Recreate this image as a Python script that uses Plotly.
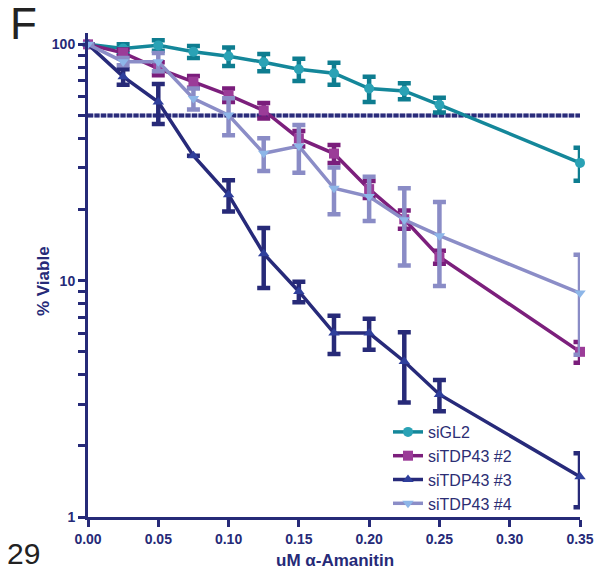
import plotly.graph_objects as go

NA = float("nan")  # no error bar drawn at this point

# ---- data ----
conc = [0, 0.025, 0.05, 0.075, 0.1, 0.125, 0.15, 0.175, 0.2, 0.225, 0.25, 0.35]

sigl2 = [100, 96, 99, 93, 89, 84, 78.5, 75.5, 65, 63.5, 55.5, 31.5]
sigl2_err = [NA, 4, 5, 5.5, 8, 7, 8.5, 8, 8, 5, 4, 5]

tdp2 = [100, 92, 79, 69.5, 61, 52.5, 40, 34.5, 24.4, 18.2, 12.6, 5.0]
tdp2_err = [NA, 3, 5, 4, 4, 4, 3, 3, 2, 1.6, 0.8, 0.5]

tdp3 = [100, 73, 57, 33.8, 23.1, 13.0, 9.0, 6.0, 6.0, 4.55, 3.3, 1.48]
tdp3_err = [NA, 5.5, 11, NA, 3.5, 3.7, 0.9, 1.1, 0.9, 1.5, 0.5, 0.38]

tdp4 = [100, 84.5, 84.5, 59, 50.2, 34.6, 37.1, 24.6, 22.7, 18.1, 15.5, 8.86]
tdp4_err = [NA, 3, 7.5, 6, 9, 5.5, 8.5, 5.5, 4.8, 6.5, 6, 4]

series_names = ["siGL2", "siTDP43 #2", "siTDP43 #3", "siTDP43 #4"]
HALF = 50

y_tickvals = [1, 2, 3, 4, 5, 6, 7, 8, 9, 10, 20, 30, 40, 50, 60, 70, 80, 90, 100]
y_ticktext = ["1", "", "", "", "", "", "", "", "", "10", "", "", "", "", "", "", "", "", "100"]

NAVY = "#262a78"
FONT = "Liberation Sans, Arial, sans-serif"

styles = [
    dict(line="#14879a", marker="#2aa2b5", err="#0e7d90", symbol="circle"),
    dict(line="#7c1f7c", marker="#9b3c98", err="#7a1d7b", symbol="square"),
    dict(line="#272a7a", marker="#2f3f9c", err="#272a78", symbol="triangle-up"),
    dict(line="#8b8dc7", marker="#8db6e8", err="#8a8cc6", symbol="triangle-down"),
]
values = [sigl2, tdp2, tdp3, tdp4]
errors = [sigl2_err, tdp2_err, tdp3_err, tdp4_err]

fig = go.Figure()

# 50 % reference line
fig.add_trace(go.Scatter(x=[conc[0], conc[-1]], y=[HALF, HALF], mode="lines",
                         line=dict(color="#b9badc", width=4), showlegend=False,
                         hoverinfo="skip", cliponaxis=False))
fig.add_trace(go.Scatter(x=[conc[0], conc[-1]], y=[HALF, HALF], mode="lines",
                         line=dict(color="#2a2c7a", width=4, dash="5px,1.5px"),
                         showlegend=False, hoverinfo="skip", cliponaxis=False))

for name, y, err, st in zip(series_names, values, errors, styles):
    fig.add_trace(go.Scatter(
        x=conc, y=y, name=name, mode="lines+markers",
        line=dict(color=st["line"], width=3.5),
        marker=dict(symbol=st["symbol"], size=10, color=st["marker"]),
        error_y=dict(type="data", array=err, visible=True, color=st["err"],
                     thickness=4.5, width=6.5),
        cliponaxis=False,
    ))

W, H = 605, 571
ML, MR, MT, MB = 88, 25, 33, 54
pw, ph = W - ML - MR, H - MT - MB


def px2paper(px, py):
    return (px - ML) / pw, (H - MB - py) / ph


annotations = []
for text, (px, py), size, bold, color, xa, rot in [
    ("% Viable", (43, 281), 17, True, NAVY, "center", -90),
    ("uM α-Amanitin", (335, 560), 17, True, NAVY, "center", 0),
    ("F", (8, 23.5), 44, False, "#222222", "left", 0),
    ("29", (5, 553), 30, False, "#222222", "left", 0),
]:
    ax, ay = px2paper(px, py)
    annotations.append(dict(
        text=text, x=ax, y=ay, xref="paper", yref="paper", showarrow=False,
        xanchor=xa, yanchor="middle", textangle=rot,
        font=dict(family=FONT, size=size, color=color,
                  weight="bold" if bold else "normal"),
    ))

lx, ly = px2paper(388, 415)

fig.update_layout(
    width=W, height=H,
    margin=dict(l=ML, r=MR, t=MT, b=MB),
    paper_bgcolor="white", plot_bgcolor="white",
    showlegend=True,
    legend=dict(x=lx, y=ly, xanchor="left", yanchor="top",
                bgcolor="rgba(0,0,0,0)",
                font=dict(family=FONT, size=16, color="#2c2e74")),
    annotations=annotations,
    xaxis=dict(range=[0, 0.35], tick0=0, dtick=0.05, tickformat=".2f",
               showline=True, linewidth=3, linecolor=NAVY, showgrid=False,
               zeroline=False, ticks="outside", ticklen=7, tickwidth=3,
               tickcolor=NAVY,
               tickfont=dict(family=FONT, size=14, color=NAVY, weight="bold")),
    yaxis=dict(type="log", range=[0, 2.048], tickmode="array",
               tickvals=y_tickvals, ticktext=y_ticktext,
               showline=True, linewidth=3, linecolor=NAVY, showgrid=False,
               zeroline=False, ticks="outside", ticklen=7, tickwidth=3,
               tickcolor=NAVY,
               tickfont=dict(family=FONT, size=14, color=NAVY, weight="bold")),
)

fig.write_html("out.html")
